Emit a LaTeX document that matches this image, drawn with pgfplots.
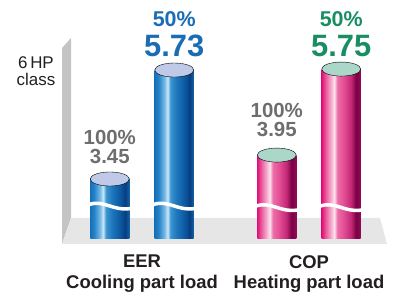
\documentclass[border=0pt]{standalone}
\usepackage{pgfplots}
\pgfplotsset{compat=1.18}
\usepackage{fontspec}
\setmainfont{Liberation Sans}

\definecolor{txtblue}{RGB}{26,108,180}
\definecolor{txtgreen}{RGB}{24,142,98}
\definecolor{txtgray}{RGB}{110,110,112}
\definecolor{txtdark}{RGB}{35,31,32}
\definecolor{capblue}{RGB}{190,202,232}
\definecolor{capgreen}{RGB}{170,215,200}
\definecolor{wallgray}{RGB}{196,196,196}
\definecolor{floorgray}{RGB}{230,230,230}

\definecolor{bA}{RGB}{22,112,186}
\definecolor{bB}{RGB}{36,132,200}
\definecolor{bC}{RGB}{120,185,228}
\definecolor{bD}{RGB}{205,232,248}
\definecolor{bE}{RGB}{60,150,210}
\definecolor{bF}{RGB}{30,120,190}
\definecolor{bG}{RGB}{12,86,158}
\definecolor{bH}{RGB}{6,62,128}
\definecolor{bI}{RGB}{22,98,168}
\pgfdeclarehorizontalshading{bluecyl}{100bp}{color(0bp)=(bA); color(25bp)=(bA); color(30bp)=(bB); color(37.5bp)=(bC); color(41.5bp)=(bD); color(45bp)=(bE); color(52.5bp)=(bF); color(64bp)=(bG); color(70bp)=(bH); color(75bp)=(bI); color(100bp)=(bI)}

\definecolor{pA}{RGB}{224,18,122}
\definecolor{pB}{RGB}{236,100,160}
\definecolor{pC}{RGB}{246,180,210}
\definecolor{pD}{RGB}{252,228,240}
\definecolor{pE}{RGB}{236,110,168}
\definecolor{pF}{RGB}{228,80,150}
\definecolor{pG}{RGB}{196,40,118}
\definecolor{pH}{RGB}{120,0,68}
\definecolor{pI}{RGB}{150,10,85}
\pgfdeclarehorizontalshading{pinkcyl}{100bp}{color(0bp)=(pA); color(25bp)=(pA); color(31bp)=(pB); color(37.5bp)=(pC); color(41bp)=(pD); color(45bp)=(pE); color(52.5bp)=(pF); color(62.5bp)=(pG); color(69bp)=(pH); color(75bp)=(pI); color(100bp)=(pI)}

\pgfplotsset{
  cyl/.style={ybar, bar width=39bp, bar shift=0pt, draw=none, shading=#1, shading angle=0},
  cap/.style={only marks, mark=*, mark size=19.5bp, mark options={draw=none, fill=#1, yscale=0.36}},
}

\begin{document}
\begin{tikzpicture}[x=1bp,y=1bp]
\useasboundingbox (0,0) rectangle (397,298);
\fill[wallgray] (62,250) -- (71,260) -- (71,80) -- (62,54) -- cycle;
\fill[floorgray] (71,80) -- (380,80) -- (387,54) -- (62,54) -- cycle;
\node[anchor=base east, font=\fontsize{17}{17}\selectfont, text=txtdark, inner sep=0] at (54,230) {6\,HP};
\node[anchor=base east, font=\fontsize{17}{17}\selectfont, text=txtdark, inner sep=0] at (55.5,213) {class};
\begin{axis}[at={(0bp,298bp)}, anchor=north west, scale only axis, width=397bp, height=238.5bp,
  xmin=-0.8503, xmax=1.5269, ymin=2.205, ymax=7.195,
  /pgf/number format/assume math mode=true,
  hide y axis, axis x line*=bottom, x axis line style={draw=none}, xtick style={draw=none},
  xtick={0,1}, xticklabels={{EER\\Cooling part load},{COP\\Heating part load}},
  xticklabel style={align=center, font=\fontsize{18.5}{21}\selectfont\bfseries, text=txtdark, inner sep=0, anchor=north, yshift=-16.5bp},
  point meta=y,
]
% bars
\addplot[cyl=bluecyl] coordinates {(-0.193,3.45)};
\addplot[cyl=bluecyl] coordinates {(0.193,5.73)};
\addplot[cyl=pinkcyl] coordinates {(0.807,3.95)};
\addplot[cyl=pinkcyl] coordinates {(1.193,5.75)};
% caps with labels
\addplot[cap=capblue, nodes near coords={100\%\\\pgfmathprintnumber[fixed,fixed zerofill,precision=2,assume math mode=true]{\pgfplotspointmeta}},
  every node near coord/.append style={inner sep=0, align=center, yshift=14.7bp, text=txtgray, font=\fontsize{20.5}{19.5}\selectfont\bfseries}]
  coordinates {(-0.193,3.45)};
\addplot[cap=capblue, nodes near coords={{\fontsize{21.5}{21.5}\selectfont 50\%}\\\pgfmathprintnumber[fixed,fixed zerofill,precision=2,assume math mode=true]{\pgfplotspointmeta}},
  every node near coord/.append style={inner sep=0, align=center, yshift=13bp, text=txtblue, font=\fontsize{31}{30}\selectfont\bfseries}]
  coordinates {(0.193,5.73)};
\addplot[cap=capgreen, nodes near coords={100\%\\\pgfmathprintnumber[fixed,fixed zerofill,precision=2,assume math mode=true]{\pgfplotspointmeta}},
  every node near coord/.append style={inner sep=0, align=center, yshift=18bp, text=txtgray, font=\fontsize{20.5}{19.5}\selectfont\bfseries}]
  coordinates {(0.807,3.95)};
\addplot[cap=capgreen, nodes near coords={{\fontsize{21.5}{21.5}\selectfont 50\%}\\\pgfmathprintnumber[fixed,fixed zerofill,precision=2,assume math mode=true]{\pgfplotspointmeta}},
  every node near coord/.append style={inner sep=0, align=center, yshift=12.5bp, text=txtgreen, font=\fontsize{31}{30}\selectfont\bfseries}]
  coordinates {(1.193,5.75)};
\end{axis}
% break marks
\foreach \c in {109.8,174.2} {\draw[white, line width=3.5bp] (\c-20.5,93.5) .. controls (\c-6,98.5) and (\c+4,86.5) .. (\c+20.5,89.5);}
\foreach \c in {276.8,341.2} {\draw[white, line width=3.5bp] (\c-20.5,92) .. controls (\c-6,97) and (\c+4,85) .. (\c+20.5,88);}
\end{tikzpicture}
\end{document}
